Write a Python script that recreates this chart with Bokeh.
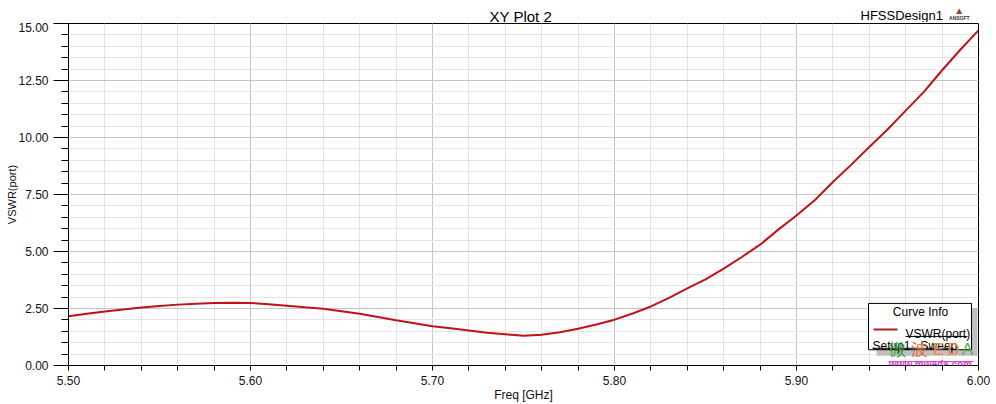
from math import pi
import numpy as np
from bokeh.plotting import figure
from bokeh.layouts import column
from bokeh.models import FixedTicker, PrintfTickFormatter, Label, Range1d
from bokeh.embed import file_html
from bokeh.resources import INLINE

# ---------------- data ----------------
freq_ghz = [5.50, 5.51, 5.52, 5.53, 5.54, 5.55, 5.56, 5.57, 5.58, 5.59,
            5.60, 5.61, 5.62, 5.63, 5.64, 5.65, 5.66, 5.67, 5.68, 5.69,
            5.70, 5.71, 5.72, 5.73, 5.74, 5.75, 5.76, 5.77, 5.78, 5.79,
            5.80, 5.81, 5.82, 5.83, 5.84, 5.85, 5.86, 5.87, 5.88, 5.89,
            5.90, 5.91, 5.92, 5.93, 5.94, 5.95, 5.96, 5.97, 5.98, 5.99, 6.00]
vswr = [2.16, 2.27, 2.37, 2.46, 2.54, 2.61, 2.67, 2.71, 2.74, 2.75,
        2.74, 2.69, 2.62, 2.55, 2.49, 2.38, 2.27, 2.13, 1.98, 1.85,
        1.72, 1.63, 1.54, 1.44, 1.37, 1.30, 1.35, 1.46, 1.61, 1.80,
        2.01, 2.28, 2.59, 2.97, 3.38, 3.78, 4.25, 4.76, 5.30, 5.96,
        6.58, 7.25, 8.05, 8.80, 9.58, 10.35, 11.18, 12.00, 12.95, 13.85, 14.70]

x_ticks = [5.50, 5.60, 5.70, 5.80, 5.90, 6.00]
x_tick_labels = ["5.50", "5.60", "5.70", "5.80", "5.90", "6.00"]
y_ticks = [0.0, 2.5, 5.0, 7.5, 10.0, 12.5, 15.0]
y_tick_labels = ["0.00", "2.50", "5.00", "7.50", "10.00", "12.50", "15.00"]

title_text = "XY Plot 2"
design_text = "HFSSDesign1"
x_label = "Freq [GHz]"
y_label = "VSWR(port)"
series_name = "VSWR(port)"
setup_name = "Setup1 : Sweep"
legend_title = "Curve Info"

FONT = "Liberation Sans"
LINE_RED = "#bf1219"

TOP_H = 22

# ---------------- header strip (title row) ----------------
top = figure(width=996, height=TOP_H, output_backend="svg", toolbar_location=None,
             title=None, x_axis_type=None, y_axis_type=None,
             x_range=Range1d(0, 996), y_range=Range1d(TOP_H, 0),
             min_border=0)
top.outline_line_color = None
top.background_fill_color = "white"
top.border_fill_color = "white"


def tlab(x, y, text, size, align="left", color="#000000", style="normal",
         baseline="alphabetic"):
    top.add_layout(Label(x=x, y=y, text=text, text_font=FONT, text_font_size=size,
                         text_align=align, text_baseline=baseline, text_color=color,
                         text_font_style=style, level="overlay"))


tlab(495, 16, title_text, "15px", align="center")
tlab(957, 15, design_text, "13px", align="right")
tlab(975, 10, "\u25B2", "10px", align="center", color="#a83a3a")
tlab(975, 17, "ANSOFT", "5px", align="center", style="bold", color="#333333")

# ---------------- main plot ----------------
p = figure(width=996, height=404 - TOP_H, output_backend="svg", toolbar_location=None,
           title=None,
           x_range=Range1d(5.5, 6.0), y_range=Range1d(0, 15),
           min_border_left=68, min_border_right=18,
           min_border_top=23 - TOP_H, min_border_bottom=34)
p.background_fill_color = "white"
p.border_fill_color = "white"
p.outline_line_color = "black"
p.outline_line_width = 1

xt = FixedTicker(ticks=x_ticks, minor_ticks=list(np.round(np.arange(5.50, 6.001, 0.02), 2)))
yt = FixedTicker(ticks=y_ticks, minor_ticks=list(np.round(np.arange(0.0, 15.001, 0.5), 2)))

xa = p.xaxis[0]
ya = p.yaxis[0]
xa.ticker = xt
ya.ticker = yt
xa.formatter = PrintfTickFormatter(format="%.2f")
ya.formatter = PrintfTickFormatter(format="%.2f")
xa.major_label_overrides = dict(zip(x_ticks, x_tick_labels))
ya.major_label_overrides = dict(zip(y_ticks, y_tick_labels))

for ax in (xa, ya):
    ax.axis_line_color = "black"
    ax.major_tick_line_color = "black"
    ax.minor_tick_line_color = "black"
    ax.major_tick_in = 0
    ax.minor_tick_in = 0
    ax.major_label_text_font = FONT
    ax.major_label_text_font_size = "12px"
    ax.major_label_text_color = "#111111"
    ax.major_label_standoff = 5
    ax.axis_label_text_font = FONT
    ax.axis_label_text_font_style = "normal"
    ax.axis_label_text_color = "#111111"

xa.major_tick_out = 0
xa.minor_tick_out = 5
ya.major_tick_out = 15
ya.minor_tick_out = 7

xa.axis_label = x_label
xa.axis_label_text_font_size = "12px"
xa.axis_label_standoff = 0
ya.axis_label = y_label
ya.axis_label_text_font_size = "11px"
ya.axis_label_standoff = -3

for g, t in ((p.xgrid[0], xt), (p.ygrid[0], yt)):
    g.ticker = t
    g.grid_line_color = "#c6c6c6"
    g.grid_line_width = 1
    g.minor_grid_line_color = "#e4e4e4"
    g.minor_grid_line_width = 1

p.line(freq_ghz, vswr, line_color=LINE_RED, line_width=2)


# helper: reference-image pixel -> data coordinates (legend/watermark placement only)
def X(ix):
    return 5.5 + (ix - 68.0) / 1820.0


def Y(iy):
    return (370.0 - iy) * 15.0 / 347.0


def lab(x, y, text, size, align="left", baseline="alphabetic", color="#000000",
        style="normal"):
    p.add_layout(Label(x=x, y=y, text=text, text_font=FONT, text_font_size=size,
                       text_align=align, text_baseline=baseline, text_color=color,
                       text_font_style=style, level="overlay"))


# legend box ("Curve Info") with drop shadow
p.quad(left=[X(876)], right=[X(977)], top=[Y(312)], bottom=[Y(360)],
       fill_color="#c0c0c0", line_color=None)
p.quad(left=[X(868)], right=[X(971)], top=[Y(307)], bottom=[Y(354)],
       fill_color="white", line_color="black", line_width=1)
p.segment(x0=[X(873)], y0=[Y(333.5)], x1=[X(897)], y1=[Y(333.5)],
          line_color="#b02020", line_width=2)
p.segment(x0=[X(905), X(872)], y0=[Y(340.5), Y(352.5)], x1=[X(967), X(953)],
          y1=[Y(340.5), Y(352.5)], line_color="black", line_width=1)
lab(X(920), Y(316), legend_title, "12px", align="center", baseline="middle")
lab(X(905), Y(338), series_name, "12px")
lab(X(872), Y(350), setup_name, "12px")

# watermark
wm = [("\u5fae", 897, "#3c9a3c"), ("\u6ce2", 919, "#e0703a"), ("E", 938, "#f08848"),
      ("D", 953, "#f08848"), ("A", 967, "#5cb040")]
for ch, ix, col in wm:
    lab(X(ix), Y(354), ch, "17px", align="center", baseline="middle", color=col)
p.segment(x0=[X(888)], y0=[Y(366)], x1=[X(973)], y1=[Y(366)],
          line_color="#d048c8", line_width=1)
lab(X(930), Y(369), "www.mweda.com", "10px", align="center", color="#d048c8",
    style="bold")

layout = column(top, p, spacing=0)
open("out.html", "w").write(file_html(layout, INLINE))
